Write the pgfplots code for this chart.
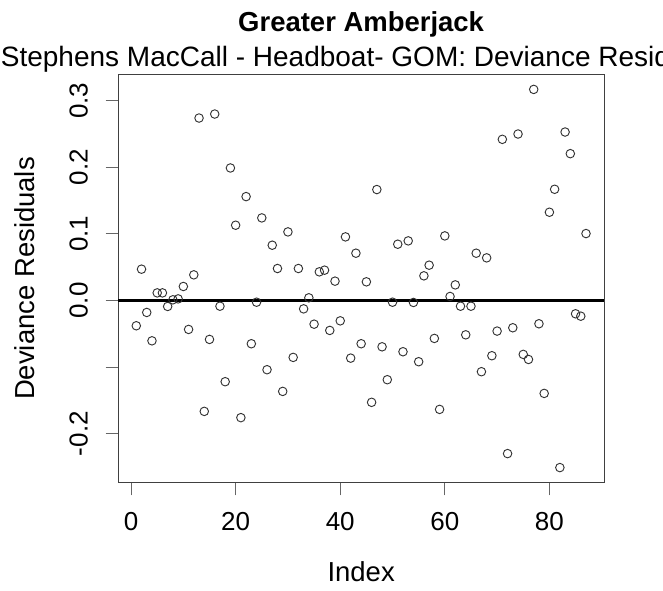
\documentclass[border=0pt]{standalone}
\usepackage{fontspec}
\setmainfont{Liberation Sans}
\usepackage{pgfplots}
\pgfplotsset{compat=1.18}
\newcommand{\tickfont}{\fontsize{19.5}{23}\selectfont}
\newcommand{\labfont}{\fontsize{20.6}{24}\selectfont}
\newcommand{\subfont}{\fontsize{21}{25}\selectfont}
\begin{document}
\begin{tikzpicture}
\useasboundingbox (-88.725pt,-81.225pt) rectangle (408.525pt,362.025pt);
\begin{axis}[
  at={(0,0)}, anchor=south west,
  scale only axis,
  width=364.275pt, height=306.3pt,
  xmin=-2.44, xmax=90.44,
  ymin=-0.2737, ymax=0.3397,
  axis line style={black!75, line width=0.75pt},
  xtick={0,20,40,60,80},
  xticklabels={0,20,40,60,80},
  ytick={-0.2,-0.1,0,0.1,0.2,0.3},
  yticklabels={-0.2,,0.0,0.1,0.2,0.3},
  xtick pos=bottom, ytick pos=left,
  tick align=outside,
  major tick length=9.5pt,
  tick style={black!60, line width=0.75pt},
  ticklabel style={font=\tickfont},
  xticklabel style={anchor=base},
  xticklabel shift=26.5pt,
  yticklabel style={rotate=90, anchor=base},
  yticklabel shift=13.5pt,
  xlabel={Index}, ylabel={Deviance Residuals},
  label style={font=\labfont},
  xlabel style={at={(axis description cs:0.5,-0.2424)}, anchor=base},
  ylabel style={at={(axis description cs:-0.1716,0.5)}, anchor=base},
  clip=false,
]
\addplot[black, line width=1.6pt, forget plot] coordinates {(-2.44,0) (90.44,0)};
\addplot[only marks, mark=o, mark size=3.2pt, mark options={black!80, line width=0.7pt}] coordinates {
(1,-0.038) (2,0.047) (3,-0.018) (4,-0.0606) (5,0.0114) (6,0.0114) (7,-0.009) (8,0.001) (9,0.0024) (10,0.021)
(11,-0.0435) (12,0.0385) (13,0.274) (14,-0.1666) (15,-0.0585) (16,0.280) (17,-0.0086) (18,-0.122) (19,0.199) (20,0.113)
(21,-0.176) (22,0.156) (23,-0.065) (24,-0.0026) (25,0.124) (26,-0.104) (27,0.083) (28,0.048) (29,-0.1366) (30,0.103)
(31,-0.0855) (32,0.048) (33,-0.0126) (34,0.004) (35,-0.0356) (36,0.043) (37,0.0455) (38,-0.045) (39,0.029) (40,-0.0306)
(41,0.0955) (42,-0.0866) (43,0.071) (44,-0.065) (45,0.028) (46,-0.153) (47,0.1666) (48,-0.0696) (49,-0.119) (50,-0.0026)
(51,0.0845) (52,-0.077) (53,0.0895) (54,-0.003) (55,-0.092) (56,0.037) (57,0.053) (58,-0.057) (59,-0.1636) (60,0.097)
(61,0.006) (62,0.0234) (63,-0.0086) (64,-0.0516) (65,-0.0086) (66,0.071) (67,-0.107) (68,0.064) (69,-0.083) (70,-0.046)
(71,0.242) (72,-0.230) (73,-0.041) (74,0.250) (75,-0.081) (76,-0.0886) (77,0.317) (78,-0.035) (79,-0.1396) (80,0.1325)
(81,0.167) (82,-0.251) (83,0.253) (84,0.2205) (85,-0.020) (86,-0.0236) (87,0.1005)
};
\node[anchor=base, font=\labfont\bfseries] at (rel axis cs:0.5,1) [yshift=31.95pt] {Greater Amberjack};
\node[anchor=base, font=\subfont] at (rel axis cs:0.5,1) [yshift=5.7pt] {Stephens MacCall - Headboat- GOM: Deviance Residuals};
\end{axis}
\end{tikzpicture}
\end{document}
